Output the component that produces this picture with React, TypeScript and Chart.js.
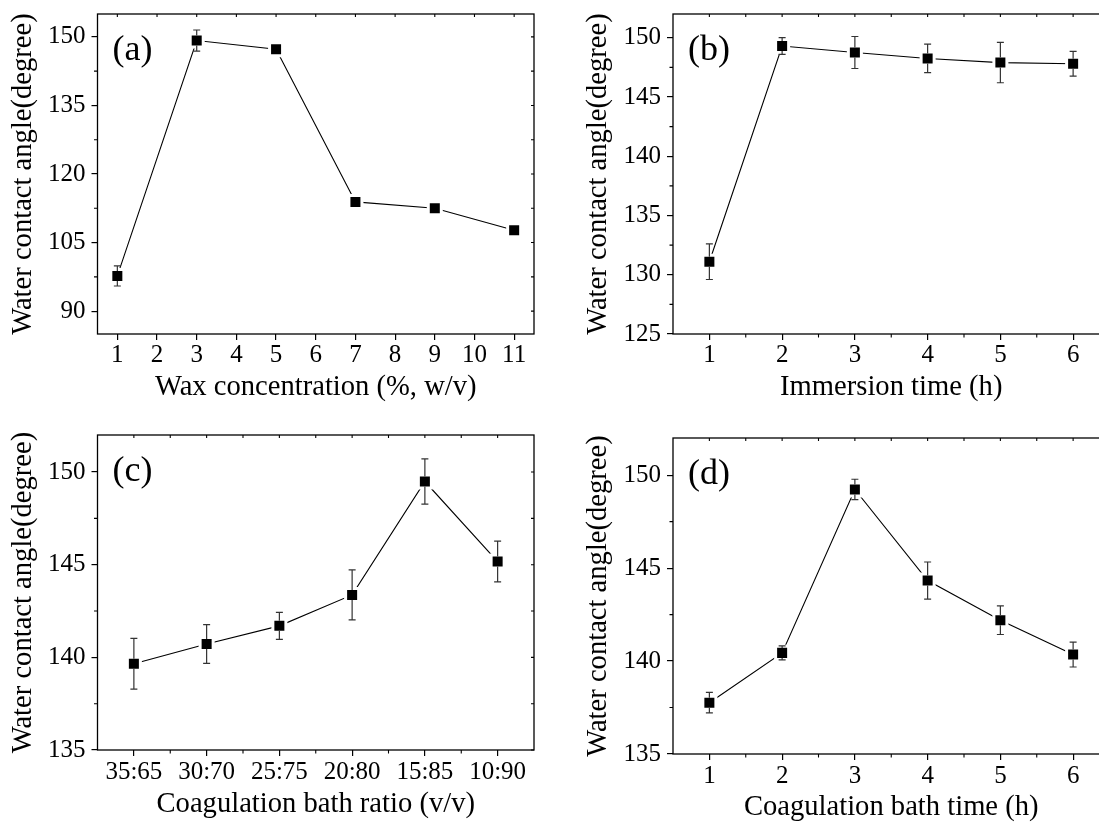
import React, { useEffect, useRef } from 'react';
import { Chart, registerables } from 'chart.js';

Chart.register(...registerables);

const FONT = "'Liberation Serif', 'Times New Roman', serif";
const Y_TITLE = 'Water contact angle(degree)';

// (a) Wax concentration
const waxConc = [1, 3, 5, 7, 9, 11];
const waxAngle = [97.7, 149.2, 147.3, 113.9, 112.5, 107.7];
const waxErr = [2.2, 2.3, 0.6, 1.0, 0.5, 0.8];
const waxXTicks = [1, 2, 3, 4, 5, 6, 7, 8, 9, 10, 11];
const waxYTicks = [90, 105, 120, 135, 150];
const waxYMinor = [97.5, 112.5, 127.5, 142.5];

// (b) Immersion time
const immTime = [1, 2, 3, 4, 5, 6];
const immAngle = [131.1, 149.3, 148.75, 148.25, 147.9, 147.8];
const immErr = [1.5, 0.7, 1.35, 1.2, 1.7, 1.05];
const hourTicks = [1, 2, 3, 4, 5, 6];
const hourMinor = [1.5, 2.5, 3.5, 4.5, 5.5];
const immYTicks = [125, 130, 135, 140, 145, 150];
const immYMinor = [127.5, 132.5, 137.5, 142.5, 147.5];

// (c) Coagulation bath ratio
const ratioCats = ['35:65', '30:70', '25:75', '20:80', '15:85', '10:90'];
const ratioAngle = [139.65, 140.72, 141.7, 143.37, 149.49, 145.17];
const ratioErr = [1.37, 1.05, 0.73, 1.35, 1.22, 1.1];
const ratioYTicks = [135, 140, 145, 150];
const ratioYMinor = [137.5, 142.5, 147.5];

// (d) Coagulation bath time
const bathTime = [1, 2, 3, 4, 5, 6];
const bathAngle = [137.76, 140.44, 149.23, 144.33, 142.2, 140.35];
const bathErr = [0.55, 0.38, 0.55, 1.0, 0.77, 0.67];

interface PanelDef {
  tag: string;
  xTitle: string;
  xs: number[];
  ys: number[];
  errs: number[];
  xMin: number;
  xMax: number;
  yMin: number;
  yMax: number;
  xMajor: number[];
  xMinor: number[];
  xMirrorMinor: boolean;
  yMajor: number[];
  yMinor: number[];
  xLabel: (v: number) => string;
  box: { left: number; top: number; width: number; height: number };
  area: { left: number; top: number; right: number; bottom: number };
  xTitlePad: number;
  xTickPad: number;
}

const panels: PanelDef[] = [
  {
    tag: '(a)',
    xTitle: 'Wax concentration (%, w/v)',
    xs: waxConc, ys: waxAngle, errs: waxErr,
    xMin: 0.5, xMax: 11.5, yMin: 85, yMax: 155,
    xMajor: waxXTicks, xMinor: [], xMirrorMinor: false,
    yMajor: waxYTicks, yMinor: waxYMinor,
    xLabel: (v) => String(v),
    box: { left: 0, top: 0, width: 575, height: 410 },
    area: { left: 97.5, top: 14, right: 534, bottom: 334 },
    xTitlePad: 8.5,
    xTickPad: 2.5,
  },
  {
    tag: '(b)',
    xTitle: 'Immersion time (h)',
    xs: immTime, ys: immAngle, errs: immErr,
    xMin: 0.5, xMax: 6.5, yMin: 125, yMax: 152,
    xMajor: hourTicks, xMinor: hourMinor, xMirrorMinor: true,
    yMajor: immYTicks, yMinor: immYMinor,
    xLabel: (v) => String(v),
    box: { left: 575, top: 0, width: 560, height: 410 },
    area: { left: 98, top: 14, right: 534.5, bottom: 334 },
    xTitlePad: 8.5,
    xTickPad: 2.5,
  },
  {
    tag: '(c)',
    xTitle: 'Coagulation bath ratio (v/v)',
    xs: ratioCats.map((_, i) => i + 1), ys: ratioAngle, errs: ratioErr,
    xMin: 0.5, xMax: 6.5, yMin: 135, yMax: 152,
    xMajor: ratioCats.map((_, i) => i + 1), xMinor: hourMinor, xMirrorMinor: true,
    yMajor: ratioYTicks, yMinor: ratioYMinor,
    xLabel: (v) => ratioCats[Math.round(v) - 1] ?? '',
    box: { left: 0, top: 410, width: 575, height: 413 },
    area: { left: 97.5, top: 25, right: 534, bottom: 340 },
    xTitlePad: 4.2,
    xTickPad: 4,
  },
  {
    tag: '(d)',
    xTitle: 'Coagulation bath time (h)',
    xs: bathTime, ys: bathAngle, errs: bathErr,
    xMin: 0.5, xMax: 6.5, yMin: 135, yMax: 152,
    xMajor: hourTicks, xMinor: hourMinor, xMirrorMinor: true,
    yMajor: ratioYTicks, yMinor: ratioYMinor,
    xLabel: (v) => String(v),
    box: { left: 575, top: 410, width: 560, height: 413 },
    area: { left: 98, top: 28, right: 534.5, bottom: 344 },
    xTitlePad: 0.8,
    xTickPad: 3.5,
  },
];

function Panel({ def }: { def: PanelDef }) {
  const ref = useRef<HTMLCanvasElement | null>(null);

  useEffect(() => {
    const canvas = ref.current;
    if (!canvas) return;

    const decor = {
      id: 'decor',
      afterDatasetsDraw(chart: any) {
        const { ctx, scales } = chart;
        const x = scales.x;
        const y = scales.y;
        ctx.save();
        ctx.strokeStyle = '#333';
        ctx.lineWidth = 1.2;
        const half = 5;
        const cap = 3.5;
        def.xs.forEach((xv, i) => {
          const px = x.getPixelForValue(xv);
          const py = y.getPixelForValue(def.ys[i]);
          const top = y.getPixelForValue(def.ys[i] + def.errs[i]);
          const bot = y.getPixelForValue(def.ys[i] - def.errs[i]);
          ctx.beginPath();
          if (py - top > half) {
            ctx.moveTo(px, top);
            ctx.lineTo(px, py - half);
            ctx.moveTo(px - cap, top);
            ctx.lineTo(px + cap, top);
          }
          if (bot - py > half) {
            ctx.moveTo(px, py + half);
            ctx.lineTo(px, bot);
            ctx.moveTo(px - cap, bot);
            ctx.lineTo(px + cap, bot);
          }
          ctx.stroke();
        });
        ctx.restore();
      },
      afterDraw(chart: any) {
        const { ctx, chartArea: a, scales } = chart;
        const x = scales.x;
        const y = scales.y;
        ctx.save();
        ctx.strokeStyle = '#000';
        ctx.lineWidth = 1.3;
        ctx.strokeRect(a.left, a.top, a.right - a.left, a.bottom - a.top);
        ctx.lineWidth = 1.1;
        ctx.beginPath();
        def.yMinor.forEach((v) => {
          const py = y.getPixelForValue(v);
          ctx.moveTo(a.left, py);
          ctx.lineTo(a.left - 3.5, py);
        });
        def.xMinor.forEach((v) => {
          const px = x.getPixelForValue(v);
          ctx.moveTo(px, a.bottom);
          ctx.lineTo(px, a.bottom + 3.5);
        });
        const topTicks = def.xMirrorMinor ? def.xMajor.concat(def.xMinor) : def.xMajor;
        topTicks.forEach((v) => {
          const px = x.getPixelForValue(v);
          ctx.moveTo(px, a.top);
          ctx.lineTo(px, a.top + 3);
        });
        def.yMajor.concat(def.yMinor).forEach((v) => {
          const py = y.getPixelForValue(v);
          ctx.moveTo(a.right, py);
          ctx.lineTo(a.right - 3, py);
        });
        ctx.stroke();
        ctx.fillStyle = '#000';
        ctx.font = `36px ${FONT}`;
        ctx.textAlign = 'left';
        ctx.textBaseline = 'alphabetic';
        ctx.fillText(def.tag, a.left + 15, a.top + 46);
        ctx.restore();
      },
    };

    const tickFont = { family: FONT, size: 25, lineHeight: 1 };
    const titleFont = { family: FONT, size: 28.6, lineHeight: 1 };
    const grid = {
      display: true,
      drawOnChartArea: false,
      drawTicks: true,
      tickLength: 6,
      color: '#000',
      lineWidth: 1.2,
    };

    const chart = new Chart(canvas, {
      type: 'line',
      data: {
        datasets: [
          {
            data: def.xs.map((xv, i) => ({ x: xv, y: def.ys[i] })),
            borderColor: '#000',
            borderWidth: 1.1,
            pointStyle: 'rect',
            pointRadius: 9.2,
            pointBackgroundColor: '#000',
            pointBorderColor: '#fff',
            pointBorderWidth: 3,
            tension: 0,
            fill: false,
          },
        ],
      },
      options: {
        responsive: false,
        animation: false,
        events: [],
        layout: {
          padding: {
            left: 0,
            top: def.area.top,
            right: def.box.width - def.area.right,
            bottom: 0,
          },
        },
        plugins: {
          legend: { display: false },
          tooltip: { enabled: false },
        },
        scales: {
          x: {
            type: 'linear',
            min: def.xMin,
            max: def.xMax,
            afterBuildTicks: (s: any) => {
              s.ticks = def.xMajor.map((v) => ({ value: v }));
            },
            afterFit: (s: any) => {
              s.height = def.box.height - def.area.bottom;
              s.paddingLeft = 0;
              s.paddingRight = 0;
            },
            ticks: {
              font: tickFont,
              color: '#000',
              padding: def.xTickPad,
              autoSkip: false,
              maxRotation: 0,
              minRotation: 0,
              callback: (v: any) => def.xLabel(Number(v)),
            },
            grid,
            border: { display: false },
            title: {
              display: true,
              text: def.xTitle,
              font: titleFont,
              color: '#000',
              padding: { top: 0, bottom: def.xTitlePad },
            },
          },
          y: {
            type: 'linear',
            min: def.yMin,
            max: def.yMax,
            afterBuildTicks: (s: any) => {
              s.ticks = def.yMajor.map((v) => ({ value: v }));
            },
            afterFit: (s: any) => {
              s.width = def.area.left;
              s.paddingTop = 0;
              s.paddingBottom = 0;
            },
            ticks: {
              font: tickFont,
              color: '#000',
              padding: 6,
              callback: (v: any) => String(v),
            },
            grid,
            border: { display: false },
            title: {
              display: true,
              text: Y_TITLE,
              font: titleFont,
              color: '#000',
              padding: { top: 9.4, bottom: 0 },
            },
          },
        },
      } as any,
      plugins: [decor],
    });

    return () => chart.destroy();
  }, [def]);

  return (
    <canvas
      ref={ref}
      width={def.box.width}
      height={def.box.height}
      style={{
        position: 'absolute',
        left: def.box.left,
        top: def.box.top,
        width: def.box.width,
        height: def.box.height,
      }}
    />
  );
}

export default function App() {
  return (
    <div
      style={{
        position: 'absolute',
        left: 0,
        top: 0,
        width: 1099,
        height: 823,
        overflow: 'hidden',
        background: '#fff',
      }}
    >
      {panels.map((p) => (
        <Panel key={p.tag} def={p} />
      ))}
    </div>
  );
}
